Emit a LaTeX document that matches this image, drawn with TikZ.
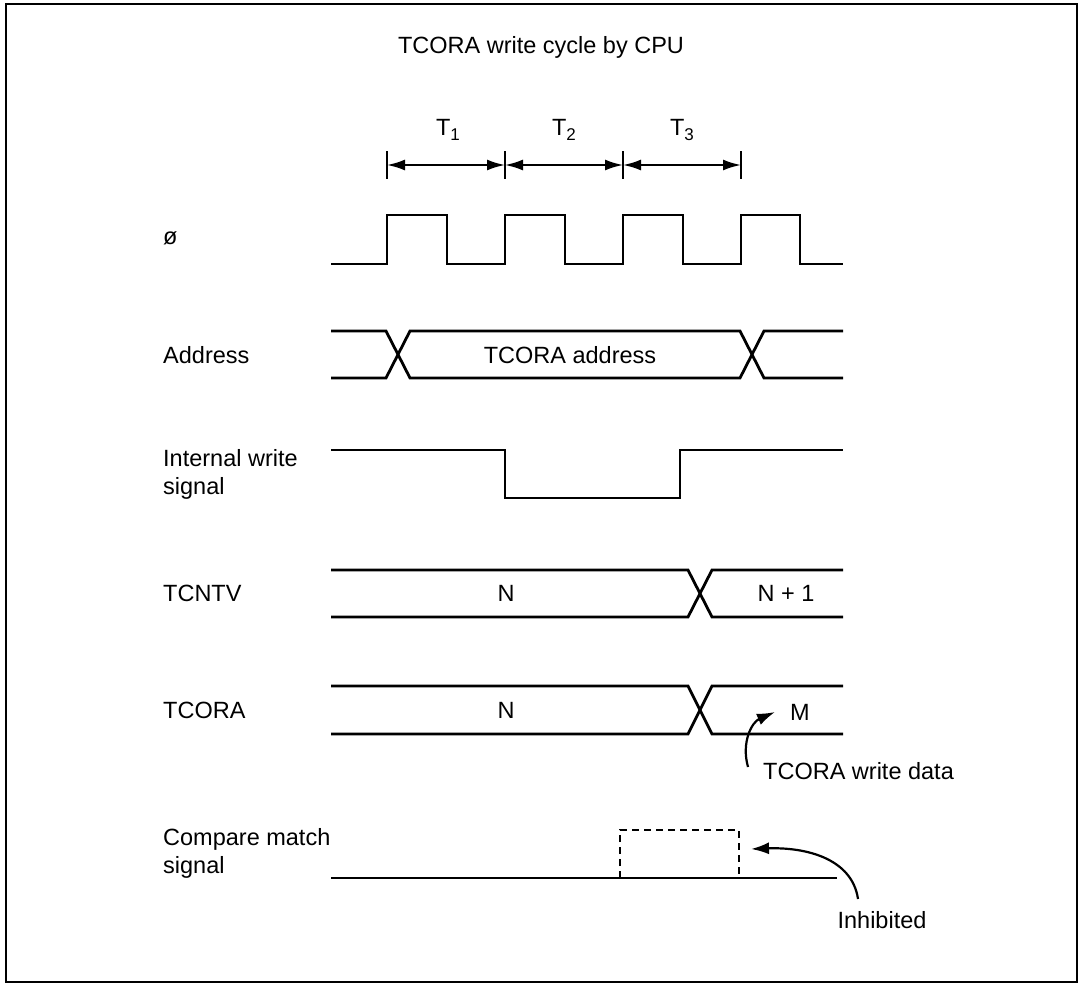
\documentclass[tikz,border=0pt]{standalone}
\usepackage{fontspec}
\setmainfont{Liberation Sans}
\usetikzlibrary{arrows.meta}
\newcommand{\tsub}[1]{\raisebox{-0.35ex}{\fontsize{17}{20}\selectfont #1}}
\begin{document}
\begin{tikzpicture}[x=1pt,y=-1pt,
  sig/.style={line width=2.8pt, line join=miter},
  lbl/.style={anchor=west, inner sep=0pt, font=\fontsize{23.5}{28}\selectfont, align=left},
  txt/.style={inner sep=0pt, font=\fontsize{23.5}{28}\selectfont},
  tipb/.style={line width=2.2pt,-{Latex[length=18pt,width=12pt]}},
  dim/.style={line width=2.2pt,{Latex[length=18pt,width=11pt]}-{Latex[length=18pt,width=11pt]}}]
\useasboundingbox (0,0) rectangle (1082,985);
\draw[line width=2.4pt] (6,4) rectangle (1077,982);

% title
\node[txt] (title) at (541,47) {TCORA write cycle by CPU};

% T1..T3 dimension lines
\foreach \n/\x in {a/387,b/505,c/623,d/741}{
  \coordinate (t\n) at (\x,165);
  \draw[line width=2.2pt] (\x,151) -- (\x,179);
}
\draw[dim] (ta) -- (tb);
\draw[dim] (tb) -- (tc);
\draw[dim] (tc) -- (td);
\node[txt] (T1) at (448,130) {T\tsub{1}};
\node[txt] (T2) at (564,130) {T\tsub{2}};
\node[txt] (T3) at (682,130) {T\tsub{3}};

% labels
\node[lbl] (lphi) at (163,238) {ø};
\node[lbl] (laddr) at (163,355) {Address};
\node[lbl] (lwr) at (163,474) {Internal write\\signal};
\node[lbl] (lcnt) at (163,593) {TCNTV};
\node[lbl] (lcor) at (163,710) {TCORA};
\node[lbl] (lcmp) at (163,853) {Compare match\\signal};

% clock
\draw[sig] (331,264) -- (387,264) -- (387,215) -- (447,215) -- (447,264)
  -- (505,264) -- (505,215) -- (565,215) -- (565,264)
  -- (623,264) -- (623,215) -- (683,215) -- (683,264)
  -- (741,264) -- (741,215) -- (800,215) -- (800,264) -- (843,264);

% address
\draw[sig] (331,331) -- (386,331) -- (410,378) -- (740,378) -- (764,331) -- (843,331);
\draw[sig] (331,378) -- (386,378) -- (410,331) -- (740,331) -- (764,378) -- (843,378);
\node[txt] (addr) at (570,355) {TCORA address};

% internal write
\draw[sig] (331,450) -- (505,450) -- (505,498) -- (680,498) -- (680,450) -- (843,450);

% TCNTV
\draw[sig] (331,570) -- (688,570) -- (712,617) -- (843,617);
\draw[sig] (331,617) -- (688,617) -- (712,570) -- (843,570);
\node[txt] (cntN) at (506,593) {N};
\node[txt] (cntN1) at (786,593) {N + 1};

% TCORA
\draw[sig] (331,686) -- (688,686) -- (712,734) -- (843,734);
\draw[sig] (331,734) -- (688,734) -- (712,686) -- (843,686);
\node[txt] (corN) at (506,710) {N};
\node[txt] (corM) at (800,712) {M};
\node[lbl] (wdata) at (763,771) {TCORA write data};
\coordinate (wtail) at (748,767);
\coordinate (wtip) at (775,712);
\draw[tipb] (wtail) .. controls (741,742) and (752,722) .. (wtip);

% compare match
\draw[sig] (331,878) -- (837,878);
\draw[sig, dash pattern=on 7pt off 5pt] (620,878) -- (620,830) -- (739,830) -- (739,878);
\node[txt] (inh) at (882,920) {Inhibited};
\coordinate (itail) at (858,899);
\coordinate (itip) at (751,849);
\draw[tipb] (itail) .. controls (852,858) and (805,847) .. (itip);
\end{tikzpicture}
\end{document}
